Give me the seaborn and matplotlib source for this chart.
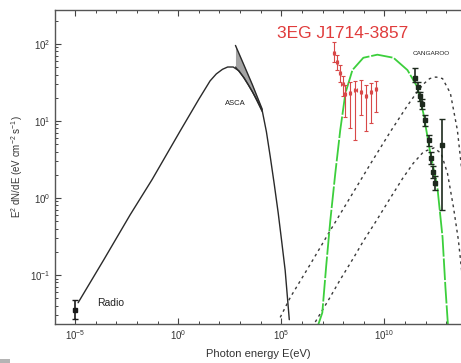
import numpy as np
import matplotlib
matplotlib.use("Agg")
import matplotlib.pyplot as plt
import matplotlib.ticker as mticker
from matplotlib.patches import Rectangle
import seaborn as sns

# ---- data (log10 of photon energy in eV, log10 of E^2 dN/dE in eV cm^-2 s^-1) ----
sync_logE = [-4.85, -3.6, -2.33, -1.26, 0.10, 1.0, 1.55, 1.85, 2.15, 2.4, 2.67,
             2.95, 3.16, 3.4, 3.64, 3.85, 4.08, 4.28, 4.47, 4.66, 4.85, 5.02, 5.19, 5.39]
sync_logF = [-1.36, -0.80, -0.22, 0.24, 0.87, 1.28, 1.52, 1.61, 1.67, 1.70, 1.70,
             1.65, 1.57, 1.47, 1.36, 1.26, 1.13, 0.86, 0.53, 0.18, -0.19, -0.56, -0.94, -1.58]

asca_logE = [2.78, 3.2, 3.6, 4.08]
asca_upper = [1.98, 1.72, 1.47, 1.15]
asca_lower = [1.70, 1.56, 1.38, 1.12]

radio_logE = [-5.0]
radio_logF = [-1.45]
radio_err_lo = [0.12]
radio_err_hi = [0.12]

pion_logE = [6.80, 6.99, 7.18, 7.38, 7.62, 7.86, 8.11, 8.45, 8.98, 9.66, 10.44,
             11.12, 11.60, 11.89, 12.23, 12.57, 12.82, 12.96, 13.08]
pion_logF = [-1.64, -1.49, -0.88, -0.29, 0.32, 0.88, 1.36, 1.66, 1.82, 1.86, 1.82,
             1.66, 1.44, 1.10, 0.58, 0.14, -0.51, -1.16, -1.64]

ic1_logE = [4.95, 5.44, 6.41, 7.38, 8.35, 9.32, 10.29, 11.12, 11.6, 11.9, 12.2,
            12.5, 12.82, 13.2, 13.54, 13.8]
ic1_logF = [-1.55, -1.29, -0.86, -0.42, 0.01, 0.44, 0.86, 1.20, 1.38, 1.48, 1.55,
            1.57, 1.55, 1.36, 0.88, 0.25]

ic2_logE = [6.65, 7.3, 7.86, 8.5, 8.98, 9.6, 10.29, 10.9, 11.4, 11.9, 12.4,
            12.75, 13.06, 13.35, 13.59, 13.75]
ic2_logF = [-1.61, -1.32, -1.06, -0.78, -0.56, -0.30, 0.00, 0.26, 0.45, 0.60, 0.65,
            0.58, 0.32, -0.12, -0.55, -0.95]

egret_logE = [7.55, 7.70, 7.85, 7.97, 8.10, 8.35, 8.60, 8.85, 9.10, 9.35, 9.60]
egret_logF = [1.88, 1.76, 1.62, 1.48, 1.35, 1.36, 1.40, 1.38, 1.32, 1.37, 1.42]
egret_err_hi = [0.15, 0.10, 0.10, 0.10, 0.12, 0.15, 0.12, 0.15, 0.15, 0.12, 0.10]
egret_err_lo = [0.12, 0.10, 0.12, 0.15, 0.30, 0.45, 0.65, 0.30, 0.45, 0.40, 0.30]

cang_logE = [11.50, 11.65, 11.75, 11.84, 11.99, 12.14, 12.28, 12.38, 12.45, 12.77]
cang_logF = [1.56, 1.44, 1.32, 1.22, 1.01, 0.75, 0.52, 0.34, 0.20, 0.69]
cang_err_hi = [0.13, 0.06, 0.06, 0.06, 0.07, 0.07, 0.08, 0.08, 0.08, 0.33]
cang_err_lo = [0.06, 0.06, 0.06, 0.06, 0.07, 0.07, 0.08, 0.08, 0.10, 0.85]

x_major = [-5, 0, 5, 10]
y_major = [-1, 0, 1, 2]


def lin(v):
    return 10.0 ** np.asarray(v, dtype=float)


def asym(val, lo, hi):
    v = lin(val)
    return np.vstack([v - lin(np.asarray(val) - np.asarray(lo)),
                      lin(np.asarray(val) + np.asarray(hi)) - v])


sns.set_style("ticks")
plt.rcParams["font.family"] = ["Liberation Sans", "DejaVu Sans"]
plt.rcParams["mathtext.fontset"] = "custom"
plt.rcParams["mathtext.rm"] = "Liberation Sans"
plt.rcParams["mathtext.it"] = "Liberation Sans:italic"
plt.rcParams["mathtext.bf"] = "Liberation Sans:bold"
plt.rcParams["mathtext.default"] = "regular"

fig = plt.figure(figsize=(4.61, 3.63), dpi=100)
ax = fig.add_axes([55 / 461, 1 - 324 / 363, 1 - 55 / 461 + 0.002, (324 - 10) / 363])
ax.set_xscale("log")
ax.set_yscale("log")
ax.set_xlim(10 ** -5.97, 10 ** 13.76)
ax.set_ylim(10 ** -1.636, 10 ** 2.44)

# synchrotron model
sns.lineplot(x=lin(sync_logE), y=lin(sync_logF), sort=False, estimator=None,
             color="#2a2a2a", linewidth=1.0, ax=ax)

# ASCA band
ax.fill_between(lin(asca_logE), lin(asca_lower), lin(asca_upper),
                color="#9a9a9a", alpha=0.9, linewidth=0)
sns.lineplot(x=lin(asca_logE), y=lin(asca_upper), sort=False, estimator=None,
             color="#2a2a2a", linewidth=1.0, ax=ax)
sns.lineplot(x=lin(asca_logE), y=lin(asca_lower), sort=False, estimator=None,
             color="#2a2a2a", linewidth=0.9, ax=ax)

# inverse Compton models
for xs, ys in ((ic1_logE, ic1_logF), (ic2_logE, ic2_logF)):
    sns.lineplot(x=lin(xs), y=lin(ys), sort=False, estimator=None,
                 color="#3a3a3a", linewidth=1.0, dashes=False, ax=ax)
for ln in ax.lines[-2:]:
    ln.set_dashes((2.0, 2.6))

# pion-decay model
sns.lineplot(x=lin(pion_logE), y=lin(pion_logF), sort=False, estimator=None,
             color="#3ccf3c", linewidth=1.3, ax=ax)
ax.lines[-1].set_dashes((12, 1.0))

# radio data
ax.errorbar(lin(radio_logE), lin(radio_logF),
            yerr=asym(radio_logF, radio_err_lo, radio_err_hi),
            fmt="s", ms=2.5, color="#1a1a1a", capsize=2, elinewidth=1.2)

# EGRET data
ax.errorbar(lin(egret_logE), lin(egret_logF),
            yerr=asym(egret_logF, egret_err_lo, egret_err_hi),
            xerr=asym(egret_logE, [0.05] * len(egret_logE), [0.05] * len(egret_logE)),
            fmt="o", ms=1.5, color="#d84848", capsize=1.5, elinewidth=0.8,
            markeredgewidth=0.8)

# CANGAROO data
ax.errorbar(lin(cang_logE), lin(cang_logF),
            yerr=asym(cang_logF, cang_err_lo, cang_err_hi),
            fmt="s", ms=2.6, color="#1e2a1e", capsize=2, elinewidth=1.2,
            markeredgewidth=1.0)

# labels inside the plot
ax.text(10 ** 2.77, 10 ** 1.22, "ASCA", fontsize=5.5, ha="center", va="center",
        color="#222222")
ax.text(10 ** -3.25, 10 ** -1.36, "Radio", fontsize=7.5, ha="center", va="center",
        color="#222222")
ax.text(10 ** 12.27, 10 ** 1.87, "CANGAROO", fontsize=4.6, ha="center", va="center",
        color="#222222")
ax.text(10 ** 8.0, 10 ** 2.14, "3EG J1714-3857", fontsize=12.5, ha="center",
        va="center", color="#e03c3c")

# axes styling
ax.xaxis.set_major_locator(mticker.FixedLocator(lin(x_major)))
ax.xaxis.set_minor_locator(mticker.FixedLocator(lin(np.arange(-6, 14))))
ax.xaxis.set_minor_formatter(mticker.NullFormatter())
ax.xaxis.set_major_formatter(mticker.LogFormatterSciNotation())
ax.yaxis.set_major_locator(mticker.FixedLocator(lin(y_major)))
ax.yaxis.set_minor_locator(mticker.LogLocator(base=10, subs=np.arange(2, 10), numticks=20))
ax.yaxis.set_minor_formatter(mticker.NullFormatter())
ax.yaxis.set_major_formatter(mticker.LogFormatterSciNotation())

ax.tick_params(which="both", direction="in", top=True, right=False,
               colors="#444444", labelcolor="#333333", labelsize=7)
ax.tick_params(which="major", length=4.5, width=0.8, pad=3)
ax.tick_params(which="minor", length=2.5, width=0.7)
for side in ("left", "bottom", "top"):
    ax.spines[side].set_color("#555555")
    ax.spines[side].set_linewidth(1.0)
ax.spines["right"].set_visible(False)

ax.set_xlabel("Photon energy E(eV)", fontsize=8, color="#333333", labelpad=5)
ax.set_ylabel("E$^2$ dN/dE (eV cm$^{-2}$ s$^{-1}$)", fontsize=7, color="#333333",
              labelpad=4)

fig.patches.append(Rectangle((0, 0), 10 / 461, 4 / 363, transform=fig.transFigure,
                             facecolor="#b4b4b4", edgecolor="none"))

fig.savefig("out.png", dpi=100)
